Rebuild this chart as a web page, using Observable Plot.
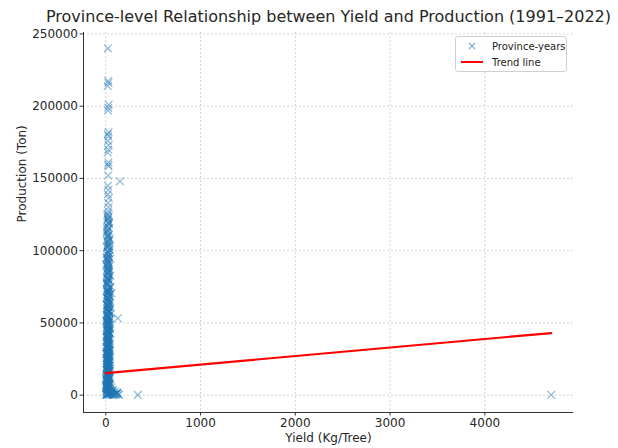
<!DOCTYPE html>
<html>
<head>
<meta charset="utf-8">
<script src="https://cdn.jsdelivr.net/npm/d3@7"></script>
<script src="https://cdn.jsdelivr.net/npm/@observablehq/plot@0.6"></script>
<style>
  body { margin: 0; background: #fff; font-family: "DejaVu Sans", sans-serif; }
  #wrap { position: relative; width: 618px; height: 448px; }
  #legend { position: absolute; left: 455px; top: 36px; width: 112px; height: 36px;
    border: 1px solid #d0d0d0; border-radius: 3px; background: rgba(255,255,255,0.85);
    font-size: 10px; color: #222; box-sizing: border-box; }
  .lrow { position: absolute; left: 0; height: 16px; display: flex; align-items: center; }
  .lrow svg { margin-left: 4px; margin-right: 8px; }
</style>
</head>
<body>
<div id="wrap"></div>
<script>
const title = "Province-level Relationship between Yield and Production (1991–2022)";
const xLabel = "Yield (Kg/Tree)";
const yLabel = "Production (Ton)";
const xTicks = [0, 1000, 2000, 3000, 4000];
const yTicks = [0, 50000, 100000, 150000, 200000, 250000];
const legendLabels = ["Province-years", "Trend line"];

// Province-years: yield (Kg/Tree)
const yieldKgTree = [
  22, 25, 28, 20, 30, 26, 24, 29, 21, 27,
  23, 31, 26, 20, 28, 24, 30, 150, 25, 22,
  27, 21, 33, 24, 29, 26, 19, 31, 25, 28,
  18, 35, 12, 27, 41, 9, 22, 30, 15, 38,
  25, 11, 33, 45, 19, 28, 7, 36, 23, 14,
  31, 20, 48, 16, 26, 39, 10, 29, 52, 21,
  13, 34, 24, 60, 17, 43, 8, 27, 37, 19,
  30, 11, 22, 47, 15, 35, 26, 55, 9, 40,
  18, 28, 6, 33, 127, 21, 44, 14, 25, 38,
  12, 31, 23, 50, 16, 27, 9, 36, 20, 42,
  7, 29, 17, 38, 24, 11, 33, 21, 46, 14,
  26, 5, 35, 19, 28, 10, 41, 23, 15, 31,
  8, 22, 37, 13, 27, 48, 18, 6, 32, 25,
  14, 30, 9, 21, 40, 4, 26, 17, 35, 11,
  23, 7, 45, 16, 28, 3, 38, 19, 10, 57,
  2, 15, 60, 85, 110, 130, 95, 5, 40, 72,
  338, 4700, 120, 25, 50, 8, 100, 65, 30, 12,
  33, 16, 24, 42, 9, 28, 19, 37, 13, 26,
  21, 39, 11, 30, 17, 48, 25, 8, 34, 22,
  14, 29, 6, 36, 20, 44, 12, 27, 18, 31,
  10, 24, 40, 15, 32, 5, 22, 13, 52, 28,
  19, 35, 7, 26, 14, 44, 30, 11, 23, 16,
  27, 9, 38, 17, 24, 13, 33, 20, 6, 29,
  41, 18, 25, 12, 36, 22, 8, 31, 15, 28,
  20, 34, 10, 26, 16, 44, 23, 7, 30, 19,
  16, 24, 31, 12, 20, 27, 35, 18, 22, 29,
  14, 26, 19, 33, 23, 11, 28, 17, 38, 21,
  25, 13, 30, 19, 42, 22, 15, 27, 34, 18,
  24, 36, 12, 29, 20, 46, 16, 31, 23, 9,
  27, 14, 33, 21, 40, 17, 25, 11, 30, 19,
  23, 35, 12, 28, 18, 43, 26, 8, 32, 20,
  15, 29, 22, 37, 10, 25, 17, 34, 6, 24,
  12, 31, 19, 48, 8, 26, 72, 15, 38, 22,
  90, 115, 140, 60, 35, 78, 105, 55, 125, 18,
  20, 32, 14, 26, 39, 18, 24, 11, 29, 35,
  17, 28, 22, 13, 44, 25, 30, 19, 36, 16,
  27, 21, 38, 14, 32, 24, 9, 29, 18, 41,
  23, 15, 34, 27, 12, 30, 20, 45, 26, 17,
  31, 22, 10, 36, 25, 16, 28, 42, 19, 33,
  13, 27, 39, 21, 8, 30, 18, 24, 47, 15
];
// Province-years: production (Ton)
const productionTon = [
  240000, 217500, 216000, 214000, 201000, 199000, 197000, 182000, 180500, 179000,
  176000, 173000, 170000, 168000, 161000, 159500, 158500, 148000, 152000, 145000,
  142000, 139000, 136500, 133000, 130000, 127500, 125500, 124000, 121500, 119000,
  117000, 115500, 113000, 111000, 108500, 107000, 105000, 104000, 102000, 100500,
  99000, 97500, 96000, 94500, 93000, 92000, 90500, 89000, 88000, 86500,
  85000, 84000, 82500, 81500, 80000, 79000, 77500, 76500, 75000, 74000,
  73000, 72000, 71000, 70500, 69500, 68500, 67500, 66500, 65500, 64500,
  63500, 62500, 61500, 60500, 59500, 58500, 57500, 56500, 55500, 54500,
  53800, 53000, 52000, 51000, 53300, 50000, 49000, 48000, 47000, 46000,
  45000, 44200, 43400, 42600, 41800, 41000, 40200, 39400, 38600, 37800,
  37000, 36200, 35400, 34600, 33800, 33000, 32200, 31400, 30600, 29800,
  29000, 28300, 27600, 26900, 26200, 25500, 24800, 24100, 23400, 22700,
  22000, 21300, 20600, 19900, 19200, 18500, 17800, 17100, 16400, 15700,
  15000, 14300, 13600, 12900, 12200, 11500, 10800, 10100, 9400, 8700,
  8000, 7400, 6800, 6200, 5600, 5000, 4400, 3800, 3200, 2600,
  2000, 1500, 1200, 900, 700, 400, 300, 200, 100, 50,
  200, 300, 1500, 600, 800, 300, 2500, 3000, 4200, 1000,
  118500, 112000, 106000, 101000, 95000, 91000, 87500, 83000, 78000, 73500,
  70000, 66000, 62000, 59000, 56000, 52500, 49500, 46500, 43800, 40600,
  38000, 35800, 33400, 31000, 28700, 26500, 24400, 21800, 19500, 17400,
  14800, 12500, 11000, 9800, 7800, 6500, 5300, 4600, 3500, 2200,
  110000, 98000, 89500, 80500, 71500, 64000, 57000, 50500, 44500, 39000,
  34000, 30000, 27000, 23500, 20500, 18000, 16000, 13000, 10500, 9000,
  103000, 94000, 86000, 78500, 69000, 61000, 54000, 47500, 42000, 36500,
  32500, 28800, 25800, 22400, 19000, 16800, 14000, 11800, 7000, 4000,
  124500, 122000, 120000, 116000, 114000, 109500, 106500, 103500, 99500, 96500,
  93500, 91500, 88500, 85500, 83500, 81000, 79500, 76000, 74500, 72500,
  71500, 68000, 67000, 65000, 63000, 61800, 60000, 58000, 57200, 55000,
  54200, 51500, 50800, 48500, 47600, 45500, 44600, 43000, 41200, 39800,
  38200, 36800, 35000, 33600, 32800, 31800, 30200, 29400, 27900, 27200,
  25900, 25000, 23800, 22400, 21000, 20000, 18800, 17600, 16600, 15300,
  14500, 13200, 12000, 11200, 10400, 9600, 8400, 7200, 6000, 5200,
  4800, 4100, 3600, 3000, 2800, 2400, 1800, 1400, 900, 600,
  500, 1100, 300, 2200, 1700, 3400, 800, 5500, 1900, 250,
  123000, 119500, 114500, 110500, 107500, 103000, 98500, 95500, 90000, 87000,
  84500, 82000, 79800, 77000, 73800, 70800, 68800, 66800, 64200, 62800,
  60800, 59200, 57800, 55800, 54800, 52800, 51800, 49800, 48800, 46800,
  45800, 44800, 43200, 42200, 40800, 39200, 37400, 35600, 34400, 33200,
  31600, 30800, 29600, 28500, 27400, 26000, 24600, 23200, 22000, 20800,
  19600, 18200, 17000, 15900, 14000, 12700, 11400, 9900, 8200, 6600
];
// Trend line endpoints
const trendYield = [0, 4700];
const trendProduction = [15300, 43000];

const points = yieldKgTree.map((x, i) => ({x, y: productionTon[i]}));
const trend = trendYield.map((x, i) => ({x, y: trendProduction[i]}));

const xDomain = [-235, 4935];
const yDomain = [-12000, 251000];

const chart = Plot.plot({
  width: 618,
  height: 448,
  marginLeft: 83,
  marginRight: 45,
  marginTop: 32,
  marginBottom: 36,
  style: { fontFamily: "DejaVu Sans, sans-serif", fontSize: "12px", color: "#262626", background: "#fff" },
  x: { domain: xDomain, label: null },
  y: { domain: yDomain, label: null },
  marks: [
    Plot.gridX(xTicks, { stroke: "#b0b0b0", strokeOpacity: 0.7, strokeDasharray: "2,2", strokeWidth: 0.8 }),
    Plot.gridY(yTicks, { stroke: "#b0b0b0", strokeOpacity: 0.7, strokeDasharray: "2,2", strokeWidth: 0.8 }),
    Plot.dot(points, { x: "x", y: "y", symbol: "times", r: 3.6, stroke: "#1f77b4", strokeOpacity: 0.55, strokeWidth: 1.1 }),
    Plot.line(trend, { x: "x", y: "y", stroke: "#ff0000", strokeWidth: 2.2 }),
    Plot.axisX({ ticks: xTicks, tickSize: 3.5, tickPadding: 2, tickFormat: d => String(d), label: null, stroke: "#333", fontSize: 12 }),
    Plot.axisY({ ticks: yTicks, tickSize: 3.5, tickPadding: 2, tickFormat: d => String(d), label: null, stroke: "#333", fontSize: 12 }),
    Plot.ruleX([xDomain[0]], { stroke: "#333", strokeWidth: 1 }),
    Plot.ruleY([yDomain[0]], { stroke: "#333", strokeWidth: 1 }),
    Plot.text([title], { frameAnchor: "top", lineAnchor: "middle", dy: -16, fontSize: 16, fill: "#262626" }),
    Plot.text([xLabel], { frameAnchor: "bottom", lineAnchor: "middle", dy: 26, fontSize: 12, fill: "#262626" }),
    Plot.text([yLabel], { frameAnchor: "left", dx: -61, rotate: -90, fontSize: 12, fill: "#262626" })
  ]
});

const wrap = document.getElementById("wrap");
wrap.appendChild(chart);

const legend = document.createElement("div");
legend.id = "legend";
legend.innerHTML = `
  <div class="lrow" style="top:1px"><svg width="24" height="14"><path d="M9,4 L15,10 M15,4 L9,10" stroke="#1f77b4" stroke-opacity="0.55" stroke-width="1.2"/></svg><span>${legendLabels[0]}</span></div>
  <div class="lrow" style="top:17px"><svg width="24" height="14"><line x1="1" x2="23" y1="7" y2="7" stroke="#ff0000" stroke-width="2"/></svg><span>${legendLabels[1]}</span></div>`;
wrap.appendChild(legend);
</script>
</body>
</html>
